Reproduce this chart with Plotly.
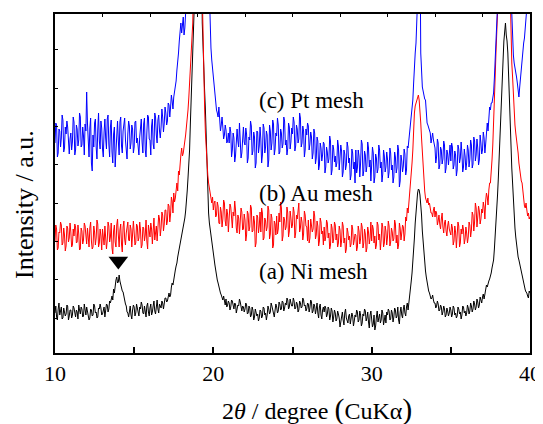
# Difractogramas XRD de las tres mallas (Ni, Au, Pt)

import plotly.graph_objects as go

# ------------------------------- Datos -------------------------------

# Eje 2theta, paso de 0.05 grados entre 10 y 40
angulo = [round(10 + i / 20, 2) for i in range(601)]

# (a) Ni mesh - intensidad relativa (a.u.), una fila por grado
ni_mesh = [
    40, 47, 36, 33, 44, 50, 38, 42, 46, 34, 35, 45, 42, 37, 39, 48, 47, 33, 37, 43,
    43, 35, 38, 47, 45, 39, 36, 43, 41, 34, 48, 43, 39, 46, 44, 36, 37, 49, 42, 38,
    46, 41, 40, 33, 35, 44, 43, 37, 38, 49, 47, 40, 41, 35, 36, 45, 44, 49, 45, 38,
    39, 44, 46, 36, 42, 49, 48, 41, 44, 52, 50, 55, 57, 53, 64, 60, 69, 73, 76, 70,
    71, 78, 72, 68, 66, 62, 61, 55, 53, 49, 47, 41, 40, 36, 44, 47, 38, 34, 43, 48,
    46, 37, 40, 49, 45, 38, 37, 46, 44, 51, 48, 40, 39, 47, 43, 36, 47, 50, 41, 37,
    45, 49, 38, 41, 47, 52, 42, 39, 46, 53, 44, 40, 49, 47, 45, 52, 50, 44, 48, 55,
    55, 51, 52, 58, 60, 56, 58, 66, 70, 68, 75, 80, 83, 87, 90, 96, 100, 105, 110, 114,
    118, 121, 124, 130, 135, 142, 150, 162, 175, 188, 203, 230, 260, 285, 310, 360, 420, 420, 420, 420,
    420, 420, 420, 420, 420, 420, 330, 300, 280, 262, 243, 210, 176, 155, 140, 130, 123, 116, 110, 104,
    100, 94, 88, 82, 76, 73, 70, 66, 63, 60, 58, 55, 53, 57, 50, 48, 54, 46, 48, 52,
    50, 43, 46, 53, 52, 45, 44, 50, 49, 40, 43, 48, 47, 54, 51, 44, 42, 47, 46, 41,
    44, 50, 48, 39, 40, 47, 45, 36, 38, 46, 43, 33, 36, 44, 41, 37, 39, 32, 35, 43,
    42, 35, 37, 46, 45, 38, 40, 33, 38, 47, 44, 39, 41, 50, 47, 42, 39, 36, 43, 49,
    46, 40, 42, 51, 49, 43, 44, 52, 51, 42, 45, 50, 48, 55, 53, 44, 46, 54, 50, 47,
    47, 55, 52, 44, 45, 51, 49, 41, 43, 52, 50, 45, 46, 55, 53, 47, 48, 42, 44, 50,
    49, 41, 45, 53, 51, 40, 42, 49, 47, 39, 44, 50, 40, 35, 46, 49, 38, 34, 43, 46,
    41, 47, 45, 36, 39, 46, 44, 33, 37, 45, 42, 31, 36, 43, 40, 32, 34, 42, 39, 35,
    26, 33, 38, 41, 33, 28, 40, 44, 35, 31, 30, 37, 39, 29, 34, 40, 37, 27, 32, 38,
    36, 43, 41, 31, 33, 42, 38, 27, 30, 39, 37, 44, 42, 32, 35, 41, 31, 25, 38, 42,
    34, 26, 29, 38, 23, 27, 36, 42, 31, 35, 39, 30, 33, 43, 40, 28, 35, 38, 30, 41,
    38, 44, 42, 33, 34, 43, 40, 31, 36, 45, 43, 35, 37, 46, 33, 29, 41, 46, 38, 35,
    44, 48, 40, 37, 46, 50, 43, 49, 58, 64, 72, 80, 90, 102, 115, 130, 143, 152, 160, 164,
    163, 158, 150, 138, 122, 110, 100, 90, 82, 76, 70, 66, 62, 60, 58, 54, 55, 58, 53, 50,
    50, 45, 47, 52, 49, 42, 43, 48, 46, 38, 41, 47, 44, 36, 38, 45, 42, 37, 40, 46,
    43, 36, 39, 47, 45, 38, 40, 35, 37, 46, 44, 39, 41, 34, 38, 47, 46, 40, 42, 37,
    40, 48, 45, 39, 42, 50, 47, 41, 44, 52, 49, 43, 46, 54, 51, 45, 48, 56, 53, 50,
    56, 59, 54, 60, 62, 68, 66, 70, 72, 74, 76, 80, 85, 88, 93, 104, 115, 128, 143, 158,
    175, 192, 210, 230, 250, 272, 293, 312, 326, 330, 318, 312, 300, 272, 243, 220, 200, 185, 170, 150,
    135, 125, 116, 108, 100, 96, 93, 89, 85, 80, 76, 73, 70, 66, 63, 61, 60, 57, 55, 62,
    60,
]

# (b) Au mesh
au_mesh = [
    112, 128, 124, 103, 105, 121, 120, 131, 128, 108, 110, 125, 118, 102, 107, 127, 125, 111, 115, 130,
    121, 106, 108, 124, 117, 129, 126, 110, 111, 128, 119, 103, 104, 125, 122, 109, 113, 130, 127, 112,
    109, 125, 118, 106, 125, 131, 112, 104, 106, 127, 121, 108, 115, 133, 129, 106, 110, 124, 117, 103,
    124, 110, 108, 127, 119, 104, 113, 131, 127, 111, 116, 130, 105, 99, 122, 128, 111, 106, 128, 134,
    118, 106, 123, 129, 109, 101, 126, 132, 114, 108, 120, 127, 131, 113, 112, 128, 124, 106, 117, 132,
    121, 108, 110, 129, 127, 112, 115, 131, 123, 105, 108, 126, 125, 112, 118, 133, 112, 104, 128, 122,
    116, 130, 124, 109, 130, 135, 113, 118, 127, 112, 121, 138, 134, 117, 125, 141, 138, 122, 129, 143,
    143, 128, 132, 149, 147, 131, 139, 156, 152, 140, 160, 151, 155, 168, 170, 162, 182, 178, 193, 198,
    205, 197, 200, 210, 212, 218, 225, 234, 243, 255, 270, 282, 293, 310, 330, 370, 420, 420, 420, 420,
    420, 420, 420, 420, 420, 420, 360, 310, 276, 245, 220, 200, 186, 178, 170, 165, 160, 154, 150, 156,
    143, 150, 152, 136, 138, 151, 147, 130, 129, 146, 141, 126, 134, 153, 150, 132, 127, 144, 139, 121,
    132, 149, 146, 128, 125, 141, 137, 152, 143, 125, 120, 138, 135, 119, 128, 145, 141, 123, 124, 139,
    133, 112, 118, 142, 139, 122, 126, 148, 145, 121, 122, 137, 131, 106, 110, 138, 136, 120, 127, 141,
    121, 145, 140, 113, 115, 135, 132, 122, 126, 147, 143, 114, 119, 139, 135, 105, 108, 132, 129, 118,
    137, 119, 124, 140, 131, 151, 145, 112, 117, 136, 133, 123, 126, 146, 140, 116, 122, 142, 135, 125,
    128, 146, 141, 115, 120, 138, 134, 149, 150, 121, 125, 136, 131, 113, 119, 142, 138, 127, 126, 112,
    133, 110, 115, 134, 129, 121, 124, 142, 137, 114, 118, 132, 127, 107, 112, 135, 131, 119, 122, 108,
    126, 112, 116, 133, 130, 115, 120, 104, 108, 129, 125, 110, 114, 131, 128, 113, 119, 106, 110, 127,
    123, 106, 112, 131, 127, 110, 115, 100, 104, 125, 121, 113, 117, 106, 109, 128, 124, 108, 113, 119,
    118, 102, 106, 127, 122, 109, 114, 130, 126, 105, 110, 124, 119, 101, 105, 126, 121, 109, 115, 131,
    112, 128, 124, 110, 117, 104, 108, 131, 128, 113, 119, 103, 113, 130, 126, 106, 110, 127, 122, 108,
    116, 132, 127, 107, 111, 125, 121, 112, 114, 133, 129, 110, 118, 104, 108, 130, 125, 113, 120, 128,
    126, 112, 119, 136, 132, 145, 140, 150, 153, 162, 175, 190, 203, 225, 240, 247, 250, 254, 256, 258,
    253, 245, 230, 215, 200, 185, 170, 162, 155, 152, 150, 155, 148, 150, 146, 140, 140, 136, 143, 146,
    136, 142, 140, 128, 132, 138, 129, 124, 134, 140, 126, 120, 130, 133, 122, 117, 127, 132, 124, 119,
    118, 129, 125, 108, 112, 127, 121, 105, 115, 131, 127, 106, 110, 124, 119, 128, 123, 109, 114, 126,
    120, 110, 116, 131, 128, 116, 123, 141, 138, 122, 131, 150, 145, 126, 136, 147, 142, 129, 134, 144,
    140, 151, 146, 134, 152, 160, 156, 148, 163, 170, 170, 178, 193, 208, 226, 250, 276, 300, 330, 380,
    420, 420, 420, 420, 420, 420, 420, 420, 420, 420, 420, 420, 420, 420, 420, 360, 310, 290, 276, 255,
    236, 228, 220, 214, 210, 200, 190, 183, 176, 172, 170, 160, 150, 147, 145, 150, 143, 137, 140, 134,
    136,
]

# (c) Pt mesh
pt_mesh = [
    210, 230, 228, 196, 200, 224, 222, 206, 215, 238, 233, 201, 205, 226, 219, 232, 226, 204, 199, 214,
    220, 203, 211, 236, 231, 198, 203, 228, 224, 207, 213, 240, 236, 206, 208, 226, 217, 198, 229, 222,
    261, 230, 214, 196, 225, 235, 190, 182, 218, 206, 230, 234, 206, 194, 223, 240, 212, 204, 232, 225,
    204, 196, 221, 234, 215, 204, 234, 238, 209, 196, 226, 233, 201, 190, 219, 226, 186, 205, 228, 232,
    212, 198, 231, 236, 207, 200, 222, 230, 235, 213, 203, 194, 219, 232, 227, 204, 210, 228, 224, 200,
    206, 231, 232, 210, 215, 201, 198, 216, 224, 234, 211, 200, 229, 235, 203, 196, 220, 238, 236, 214,
    213, 198, 227, 234, 209, 204, 240, 236, 218, 210, 233, 238, 222, 215, 226, 244, 236, 221, 230, 246,
    240, 228, 232, 250, 248, 236, 246, 258, 252, 244, 256, 262, 265, 272, 283, 290, 300, 312, 323, 330,
    320, 328, 336, 318, 325, 340, 343, 370, 420, 420, 420, 420, 420, 420, 420, 420, 420, 420, 420, 420,
    420, 420, 420, 420, 420, 420, 420, 420, 420, 420, 420, 420, 420, 420, 420, 360, 326, 305, 293, 285,
    276, 265, 256, 250, 243, 240, 236, 246, 233, 222, 228, 236, 226, 214, 218, 228, 223, 210, 212, 220,
    210, 226, 221, 196, 203, 220, 215, 191, 197, 222, 224, 212, 206, 230, 218, 195, 200, 223, 226, 211,
    208, 225, 219, 190, 195, 216, 213, 232, 227, 198, 202, 221, 216, 185, 190, 222, 221, 200, 207, 226,
    214, 190, 198, 229, 225, 200, 206, 222, 218, 186, 193, 228, 222, 203, 210, 233, 229, 198, 204, 220,
    217, 235, 228, 199, 201, 224, 220, 205, 209, 236, 232, 208, 213, 198, 205, 230, 226, 204, 211, 225,
    219, 236, 231, 202, 207, 228, 224, 210, 214, 240, 235, 206, 210, 227, 222, 196, 203, 224, 218, 230,
    227, 203, 209, 221, 216, 194, 200, 224, 220, 189, 195, 216, 212, 183, 188, 210, 205, 192, 198, 211,
    209, 180, 186, 206, 201, 190, 194, 217, 212, 178, 183, 208, 204, 191, 197, 186, 190, 213, 207, 183,
    193, 208, 202, 176, 181, 203, 199, 183, 188, 211, 206, 190, 195, 173, 178, 204, 200, 184, 191, 170,
    203, 180, 185, 203, 197, 176, 190, 213, 209, 177, 182, 202, 198, 181, 187, 211, 205, 186, 193, 172,
    188, 206, 200, 170, 176, 199, 195, 180, 184, 208, 203, 185, 191, 171, 179, 203, 197, 181, 186, 201,
    194, 175, 181, 205, 200, 183, 188, 170, 176, 201, 196, 180, 185, 208, 203, 166, 172, 198, 192, 181,
    187, 204, 199, 178, 183, 207, 205, 212, 220, 228, 236, 245, 253, 270, 290, 300, 310, 360, 420, 420,
    420, 420, 300, 275, 266, 262, 256, 254, 253, 240, 230, 228, 225, 222, 220, 210, 216, 220, 213, 206,
    205, 190, 196, 214, 210, 184, 188, 206, 203, 189, 194, 212, 208, 180, 185, 203, 199, 188, 201, 208,
    192, 210, 206, 184, 188, 202, 198, 177, 183, 208, 204, 190, 195, 211, 200, 181, 186, 204, 197, 183,
    190, 208, 203, 186, 194, 213, 208, 185, 189, 216, 212, 192, 198, 214, 205, 188, 193, 218, 210, 199,
    203, 221, 215, 200, 209, 226, 230, 222, 238, 246, 243, 250, 250, 256, 260, 275, 293, 310, 330, 370,
    420, 420, 420, 420, 420, 420, 420, 420, 420, 420, 420, 420, 420, 420, 420, 420, 420, 340, 310, 298,
    290, 286, 283, 276, 270, 262, 256, 266, 276, 285, 293, 300, 310, 315, 323, 335, 345, 380, 420, 420,
    420,
]

assert len(ni_mesh) == len(au_mesh) == len(pt_mesh) == len(angulo), \
    (len(ni_mesh), len(au_mesh), len(pt_mesh))

# Etiquetas de cada curva y su posicion
etiquetas = ["(c) Pt mesh", "(b) Au mesh", "(a) Ni mesh"]
etiqueta_x = [22.75, 22.75, 22.75]
etiqueta_y = [253, 160, 82]

# Pico marcado con triangulo en la curva de Ni
pico_x = [14.0]
pico_y = [92]

# Ticks del eje x
ticks_x = [10, 15, 20, 25, 30, 35, 40]
ticks_txt = ["10", "", "20", "", "30", "", "40"]

# ------------------------------- Figura -------------------------------

fuente = "Liberation Serif"

fig = go.Figure()

series = [(ni_mesh, "black"), (au_mesh, "#ff0000"), (pt_mesh, "#0000ff")]
for valores, color in series:
    fig.add_trace(go.Scatter(
        x = angulo, y = valores, mode = "lines",
        line = dict(color = color, width = 1),
        showlegend = False, hoverinfo = "skip"))

# triangulo sobre el pico (en el eje superior, que tiene el mismo rango)
fig.add_trace(go.Scatter(
    x = pico_x, y = pico_y, mode = "markers", xaxis = "x2",
    marker = dict(symbol = "triangle-down", size = 17, color = "black"),
    showlegend = False, hoverinfo = "skip"))

for texto, xx, yy in zip(etiquetas, etiqueta_x, etiqueta_y):
    fig.add_annotation(
        x = xx, y = yy, text = texto, showarrow = False,
        xanchor = "left", yanchor = "middle",
        font = dict(family = fuente, size = 23, color = "black"))

# titulos de los ejes como anotaciones
fig.add_annotation(
    xref = "paper", yref = "paper", x = 0.552, y = -0.165,
    text = '2<i>θ</i> / degree <span style="font-size:30px">(</span>CuKα<span style="font-size:30px">)</span>',
    showarrow = False, xanchor = "center", yanchor = "middle",
    font = dict(family = fuente, size = 24, color = "black"))

fig.add_annotation(
    xref = "paper", yref = "paper", x = -0.063, y = 0.437,
    text = "Intensity / a.u.", textangle = -90, showarrow = False,
    xanchor = "center", yanchor = "middle",
    font = dict(family = fuente, size = 26, color = "black"))

# margenes compensando el desplazamiento de 8 px de la pagina
fig.update_layout(
    width = 543, height = 424,
    margin = dict(l = 47, r = 21, t = 6, b = 79),
    plot_bgcolor = "white", paper_bgcolor = "white",
    font = dict(family = fuente, size = 22, color = "black"),
    xaxis = dict(
        range = [10, 40], tickvals = ticks_x, ticktext = ticks_txt,
        ticks = "inside", ticklen = 6, tickwidth = 1.5, tickcolor = "black",
        showline = True, linecolor = "black", linewidth = 2, mirror = True,
        showgrid = False, zeroline = False, automargin = False,
        tickfont = dict(family = fuente, size = 22)),
    xaxis2 = dict(
        range = [10, 40], overlaying = "x", side = "top", dtick = 3, tick0 = 10,
        ticks = "inside", ticklen = 3, tickwidth = 1, tickcolor = "black",
        showticklabels = False, showgrid = False, zeroline = False,
        automargin = False),
    yaxis = dict(
        range = [0, 339], showticklabels = False,
        ticks = "inside", ticklen = 3, tickwidth = 1, tickcolor = "black",
        tick0 = 35, dtick = 38.3,
        showline = True, linecolor = "black", linewidth = 2, mirror = True,
        showgrid = False, zeroline = False, automargin = False),
)

fig.write_html("out.html")
